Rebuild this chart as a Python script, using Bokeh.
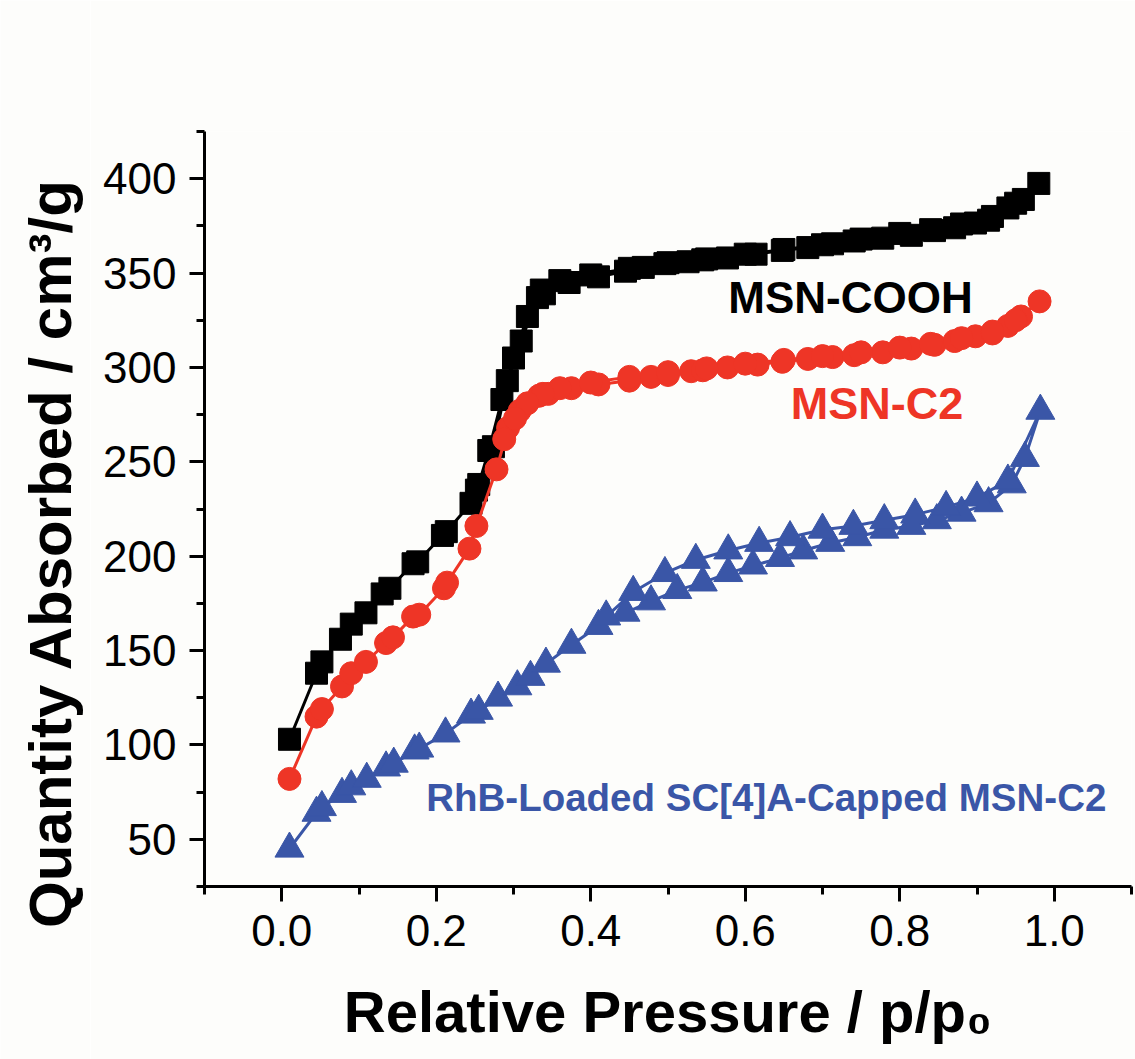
from math import pi
from bokeh.plotting import figure
from bokeh.layouts import row
from bokeh.models import Label, SingleIntervalTicker, NumeralTickFormatter, Range1d
from bokeh.embed import file_html
from bokeh.resources import INLINE

# ---------------- data ----------------
cooh_ads_x = [0.010, 0.045, 0.052, 0.076, 0.090, 0.109, 0.130, 0.140, 0.170, 0.176,
              0.208, 0.213, 0.245, 0.252, 0.274, 0.292, 0.310, 0.331, 0.340, 0.372,
              0.410, 0.445, 0.468, 0.496, 0.526, 0.545, 0.577, 0.614, 0.648, 0.681,
              0.713, 0.741, 0.778, 0.815, 0.845, 0.871, 0.898, 0.915, 0.940, 0.960, 0.980]
cooh_ads_y = [103, 138, 144, 156, 164, 170, 180, 183, 196, 197,
              211, 213, 228, 235, 258, 293, 314, 337, 339, 345,
              348, 351, 353, 355, 356, 357, 358, 360, 362, 363.5,
              365.5, 367, 368.5, 370, 372.5, 374, 376.5, 378, 384.5, 389, 397.5]
cooh_des_x = [0.950, 0.920, 0.880, 0.840, 0.800, 0.750, 0.700, 0.650, 0.600, 0.550,
              0.500, 0.450, 0.400, 0.360, 0.336, 0.318, 0.300, 0.285, 0.268, 0.255]
cooh_des_y = [387, 380, 376, 373, 371, 368, 365, 362.5, 360, 357.5,
              355.5, 352.5, 349, 346, 341, 327, 305, 283, 256, 238]

c2_ads_x = [0.010, 0.045, 0.052, 0.078, 0.090, 0.109, 0.135, 0.144, 0.170, 0.178,
            0.210, 0.214, 0.243, 0.252, 0.278, 0.293, 0.308, 0.333, 0.345, 0.375,
            0.410, 0.450, 0.478, 0.500, 0.530, 0.545, 0.577, 0.616, 0.648, 0.681,
            0.713, 0.741, 0.778, 0.815, 0.845, 0.871, 0.898, 0.920, 0.940, 0.957, 0.981]
c2_ads_y = [82, 115, 119, 131, 138, 144, 154, 157, 168, 169,
            183, 186, 204, 216, 246, 268, 277, 285, 286, 289,
            291, 293, 295, 296, 298, 298.5, 300, 301.5, 303, 304.5,
            305.5, 306.5, 308, 310, 312, 314, 316.5, 318, 322, 327, 335]
c2_des_x = [0.950, 0.920, 0.880, 0.840, 0.800, 0.750, 0.700, 0.650, 0.600, 0.550,
            0.500, 0.450, 0.400, 0.360, 0.338, 0.318, 0.302, 0.288]
c2_des_y = [325, 319, 315.5, 312.5, 310.5, 308, 306, 304, 302, 299.5,
            297.5, 295, 292, 289, 286, 281, 273, 262]

rhb_ads_x = [0.010, 0.045, 0.052, 0.078, 0.090, 0.110, 0.135, 0.145, 0.172, 0.178,
             0.212, 0.245, 0.255, 0.280, 0.305, 0.322, 0.342, 0.375, 0.410, 0.445,
             0.478, 0.512, 0.545, 0.578, 0.610, 0.645, 0.675, 0.710, 0.745, 0.780,
             0.815, 0.848, 0.880, 0.915, 0.945, 0.962, 0.982]
rhb_ads_y = [45, 64, 67, 74, 78, 82, 88, 90, 97, 98,
             106, 116, 118, 125, 131, 136, 143, 153, 163, 170,
             176, 182, 186, 191, 195, 199, 203, 207, 210, 214,
             216, 219, 223, 228, 238, 252, 277]
rhb_des_x = [0.940, 0.900, 0.860, 0.820, 0.780, 0.740, 0.700, 0.658, 0.618, 0.578,
             0.536, 0.496, 0.455, 0.420]
rhb_des_y = [240, 231, 226, 222, 219, 216, 214, 210, 207, 203,
             198, 191, 181, 168]

x_ticks_interval = 0.2
y_ticks_interval = 50
x_title = "Relative Pressure / p/p\u2080"
y_title = "Quantity Absorbed / cm\u00b3/g"
series_names = ["MSN-COOH", "MSN-C2", "RhB-Loaded SC[4]A-Capped MSN-C2"]

# ---------------- styles ----------------
BG = "#FDFDFB"
BLACK = "#000000"
RED = "#EE3526"
BLUE = "#3A56A7"
FONT = "Liberation Sans"
H = 1059
TITLE_W = 90

# narrow panel holding the rotated y-axis title
tp = figure(width=TITLE_W, height=H, output_backend="svg", toolbar_location=None,
            x_range=Range1d(0, TITLE_W), y_range=Range1d(0, H),
            x_axis_location=None, y_axis_location=None,
            min_border_left=0, min_border_right=0, min_border_top=0, min_border_bottom=0)
tp.frame_align = False
tp.background_fill_color = BG
tp.border_fill_color = BG
tp.outline_line_color = None
tp.grid.visible = False
tp.add_layout(Label(x=50, y=H - 552.5, text=y_title, text_font=FONT, angle=pi / 2,
                    text_font_size="60px", text_font_style="bold", text_color=BLACK,
                    text_align="center", text_baseline="alphabetic"))

p = figure(width=1135 - TITLE_W, height=H, output_backend="svg", toolbar_location=None,
           x_range=Range1d(-0.1, 1.1), y_range=Range1d(25, 425),
           min_border_left=204 - TITLE_W, min_border_right=4, min_border_top=131,
           min_border_bottom=173)
p.frame_align = False
p.background_fill_color = BG
p.border_fill_color = BG
p.outline_line_color = None
p.grid.visible = False

p.xaxis.ticker = SingleIntervalTicker(interval=x_ticks_interval, num_minor_ticks=2)
p.yaxis.ticker = SingleIntervalTicker(interval=y_ticks_interval, num_minor_ticks=2)
p.xaxis.formatter = NumeralTickFormatter(format="0.0")

for ax in (p.xaxis, p.yaxis):
    ax.axis_line_width = 3
    ax.axis_line_color = BLACK
    ax.major_tick_line_width = 3
    ax.minor_tick_line_width = 3
    ax.major_tick_line_color = BLACK
    ax.minor_tick_line_color = BLACK
    ax.major_tick_in = 0
    ax.minor_tick_in = 0
    ax.major_tick_out = 15
    ax.minor_tick_out = 8
    ax.major_label_text_font = FONT
    ax.major_label_text_font_size = "44px"
    ax.major_label_text_color = BLACK
p.xaxis.major_label_standoff = 13
p.yaxis.major_label_standoff = 13

p.xaxis.axis_label = x_title
p.xaxis.axis_label_text_font = FONT
p.xaxis.axis_label_text_font_size = "58px"
p.xaxis.axis_label_text_font_style = "bold"
p.xaxis.axis_label_text_color = BLACK
p.xaxis.axis_label_standoff = 30


def draw(xa, ya, xd, yd, color, marker, size):
    xs = xa + xd
    ys = ya + yd
    p.line(xs, ys, line_color=color, line_width=3)
    p.scatter(xs, ys, marker=marker, size=size, fill_color=color, line_color=color)


draw(cooh_ads_x, cooh_ads_y, cooh_des_x, cooh_des_y, BLACK, "square", 22)
draw(c2_ads_x, c2_ads_y, c2_des_x, c2_des_y, RED, "circle", 23)
draw(rhb_ads_x, rhb_ads_y, rhb_des_x, rhb_des_y, BLUE, "triangle", 29)

# series annotations
p.add_layout(Label(x=0.578, y=337, text=series_names[0], text_font=FONT,
                   text_font_size="44px", text_font_style="bold", text_color=BLACK,
                   text_align="left", text_baseline="alphabetic"))
p.add_layout(Label(x=0.659, y=281, text=series_names[1], text_font=FONT,
                   text_font_size="45px", text_font_style="bold", text_color=RED,
                   text_align="left", text_baseline="alphabetic"))
p.add_layout(Label(x=0.187, y=72, text=series_names[2], text_font=FONT,
                   text_font_size="38.5px", text_font_style="bold", text_color=BLUE,
                   text_align="left", text_baseline="alphabetic"))

layout = row(tp, p, spacing=0)
open("out.html", "w").write(file_html(layout, INLINE))
